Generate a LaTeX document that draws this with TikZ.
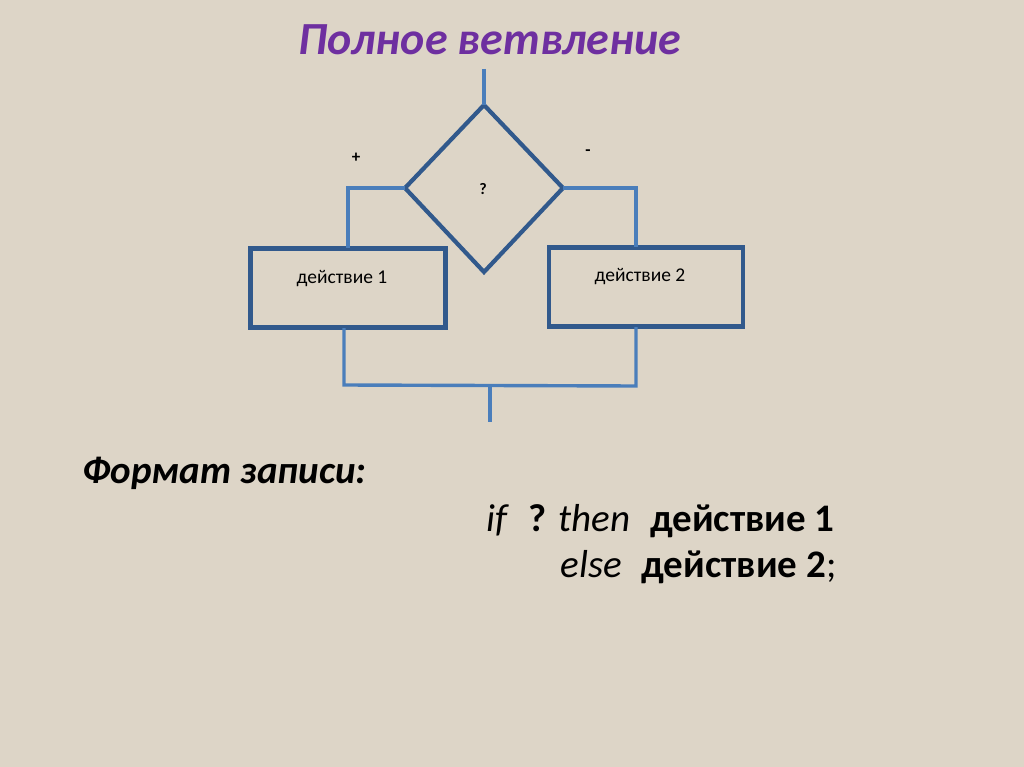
\documentclass[tikz,border=0pt]{standalone}
\usepackage{fontspec}
\setmainfont{Carlito}
\usetikzlibrary{shapes.geometric}
\definecolor{bg}{HTML}{DDD5C7}
\definecolor{boxblue}{HTML}{31598C}
\definecolor{lineblue}{HTML}{4A7EBB}
\definecolor{titlepurple}{HTML}{6E2FA0}
\tikzset{
  shape box/.style={draw=boxblue, line width=4.2pt},
  conn/.style={draw=lineblue, line width=3.4pt},
  smalltxt/.style={font=\fontsize{19.5}{22}\selectfont, text=black},
  bigtxt/.style={font=\fontsize{39}{44}\selectfont, text=black}
}
\begin{document}
\begin{tikzpicture}[x=1pt,y=-1pt]
\fill[bg] (0,0) rectangle (1024,767);
\useasboundingbox (0,0) rectangle (1024,767);
% title
\node[font=\fontsize{46}{50}\selectfont\bfseries\itshape, text=titlepurple] (title) at (490,40) {Полное ветвление};
% diamond vertices
\coordinate (dt) at (484,105);
\coordinate (dl) at (405,188);
\coordinate (dr) at (563,188);
\coordinate (db) at (484,272);
\coordinate (start) at (484,69);
\draw[shape box, line join=miter] (dt) -- (dr) -- (db) -- (dl) -- cycle;
\node[font=\fontsize{16}{18}\selectfont\bfseries] (q) at (483,189) {?};
% boxes
\node[shape box, minimum width=195pt, minimum height=79pt, inner sep=0pt] (b1) at (348,288) {};
\node[shape box, minimum width=194pt, minimum height=79pt, inner sep=0pt] (b2) at (646,287) {};
\node[smalltxt] (t1) at (342,279) {действие 1};
\node[smalltxt] (t2) at (640,277) {действие 2};
% connectors
\draw[conn] (start) -- (dt);
\draw[conn] (dl) -- (348,188) -- (348,248);
\draw[conn] (dr) -- (636,188) -- (636,247);
\coordinate (jl) at (344,385);
\coordinate (jr) at (636,386);
\coordinate (jm) at (490,386);
\coordinate (end) at (490,422);
\draw[conn] (344,328) -- (jl) -- (jr) -- (636,327);
\draw[conn] (jm) -- (end);
% labels
\node[font=\fontsize{17}{19}\selectfont\bfseries] (plus) at (356,158) {+};
\node[font=\fontsize{17}{19}\selectfont\bfseries] (minus) at (588,153) {-};
% format text
\node[font=\fontsize{39}{44}\selectfont\bfseries\itshape, anchor=base west] (fmt) at (79,483) {Формат записи:};
\node[bigtxt, anchor=base east] (l1) at (838,531) {\textit{if}\; \textbf{?} \textit{then}\; \textbf{действие 1}};
\node[bigtxt, anchor=base east] (l2) at (840,577) {\textit{else}\; \textbf{действие 2};};
\end{tikzpicture}
\end{document}
